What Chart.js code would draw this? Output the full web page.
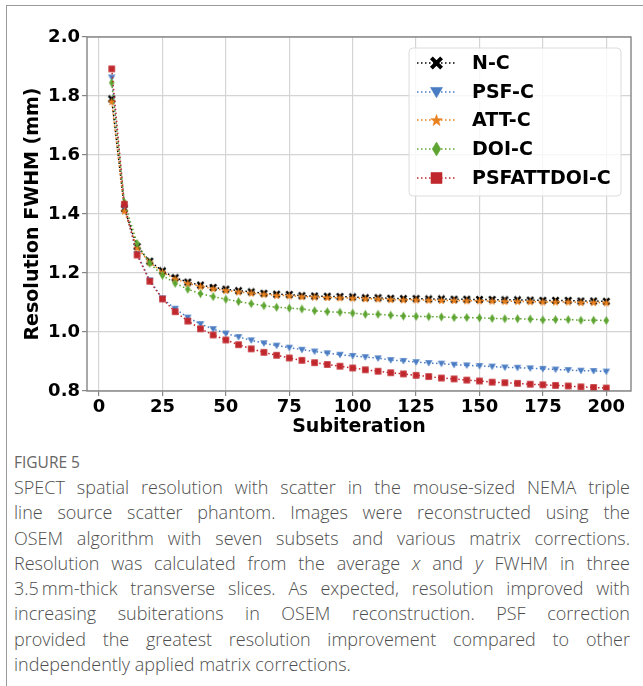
<!DOCTYPE html>
<html><head><meta charset="utf-8">
<script src="https://cdn.jsdelivr.net/npm/chart.js@4/dist/chart.umd.min.js"></script>
<style>
html,body{margin:0;padding:0;background:#fff;}
#wrap{position:relative;width:643px;height:686px;overflow:hidden;background:#fff;}
#frame{position:absolute;left:6px;top:5px;width:800px;height:900px;border-left:1px solid #9a9a9a;border-top:1px solid #9a9a9a;}
#cv{position:absolute;left:0;top:0;}
#cap{position:absolute;left:14px;top:452px;width:616px;font-family:"Open Sans",sans-serif;color:#4e4e4e;}
#fig{font-size:15.5px;line-height:20px;margin-bottom:3px;font-weight:500;color:#666;}
.ln{font-size:18px;line-height:25.3px;font-weight:300;text-align:justify;text-align-last:justify;white-space:nowrap;}
.ln.last{text-align-last:left;}
</style></head>
<body><div id="wrap">
<div id="frame"></div>
<canvas id="cv" width="643" height="440"></canvas>
<div id="cap">
<div id="fig">FIGURE 5</div>
<div class="ln">SPECT spatial resolution with scatter in the mouse-sized NEMA triple</div>
<div class="ln">line source scatter phantom. Images were reconstructed using the</div>
<div class="ln">OSEM algorithm with seven subsets and various matrix corrections.</div>
<div class="ln">Resolution was calculated from the average <i>x</i> and <i>y</i> FWHM in three</div>
<div class="ln">3.5&#8201;mm-thick transverse slices. As expected, resolution improved with</div>
<div class="ln">increasing subiterations in OSEM reconstruction. PSF correction</div>
<div class="ln">provided the greatest resolution improvement compared to other</div>
<div class="ln last">independently applied matrix corrections.</div>
</div>
</div>
<script>
const subiterations = [5,10,15,20,25,30,35,40,45,50,55,60,65,70,75,80,85,90,95,100,105,110,115,120,125,130,135,140,145,150,155,160,165,170,175,180,185,190,195,200];
const ncValues = [1.790,1.418,1.290,1.240,1.207,1.184,1.169,1.159,1.151,1.145,1.140,1.136,1.131,1.128,1.127,1.123,1.122,1.121,1.120,1.119,1.116,1.116,1.114,1.113,1.113,1.112,1.112,1.111,1.111,1.110,1.110,1.109,1.109,1.108,1.107,1.107,1.107,1.105,1.105,1.104];
const psfValues = [1.863,1.423,1.265,1.175,1.114,1.079,1.049,1.027,1.010,0.995,0.983,0.972,0.962,0.954,0.947,0.940,0.934,0.928,0.923,0.919,0.915,0.911,0.905,0.902,0.898,0.895,0.893,0.889,0.887,0.885,0.883,0.880,0.879,0.877,0.875,0.873,0.871,0.869,0.868,0.866];
const attValues = [1.781,1.410,1.285,1.236,1.203,1.180,1.165,1.155,1.147,1.141,1.136,1.132,1.128,1.124,1.123,1.120,1.119,1.117,1.116,1.115,1.113,1.112,1.110,1.109,1.109,1.108,1.107,1.107,1.106,1.106,1.105,1.104,1.104,1.103,1.102,1.102,1.102,1.100,1.100,1.099];
const doiValues = [1.845,1.440,1.300,1.233,1.192,1.165,1.145,1.130,1.120,1.111,1.103,1.096,1.089,1.084,1.081,1.078,1.072,1.069,1.067,1.064,1.060,1.060,1.057,1.054,1.053,1.052,1.051,1.049,1.049,1.048,1.046,1.045,1.045,1.044,1.041,1.042,1.042,1.040,1.040,1.039];
const psfattdoiValues = [1.892,1.433,1.261,1.172,1.112,1.069,1.037,1.011,0.990,0.973,0.957,0.943,0.931,0.921,0.912,0.904,0.896,0.890,0.884,0.878,0.872,0.867,0.862,0.858,0.853,0.849,0.844,0.841,0.837,0.834,0.830,0.828,0.826,0.823,0.821,0.819,0.817,0.814,0.812,0.810];
const seriesNames = ['N-C','PSF-C','ATT-C','DOI-C','PSFATTDOI-C'];
const xTickValues = [0,25,50,75,100,125,150,175,200];
const yTickValues = [0.8,1.0,1.2,1.4,1.6,1.8,2.0];

const seriesColors = ['#000000','#4a7cc3','#e8801e','#5ea431','#c0282e'];
const seriesMarkers = ['x','tri','star','diamond','square'];
const seriesValues = [ncValues, psfValues, attValues, doiValues, psfattdoiValues];

function drawMarker(ctx, type, cx, cy, s, color){
  ctx.save();
  ctx.fillStyle = color; ctx.strokeStyle = color; ctx.lineWidth = 0.6;
  ctx.beginPath();
  if (type === 'x'){
    ctx.translate(cx, cy); ctx.rotate(Math.PI/4);
    const L = s*0.72, w = s*0.2;
    ctx.rect(-L, -w, 2*L, 2*w); ctx.rect(-w, -L, 2*w, 2*L);
    ctx.fill();
  } else if (type === 'tri'){
    ctx.moveTo(cx - s/2, cy - s*0.38); ctx.lineTo(cx + s/2, cy - s*0.38); ctx.lineTo(cx, cy + s*0.48); ctx.closePath();
    ctx.fill(); ctx.stroke();
  } else if (type === 'star'){
    const R = s/2, r = R*0.4;
    for (let k=0;k<10;k++){
      const a = -Math.PI/2 + k*Math.PI/5; const rr = k%2===0 ? R : r;
      const px = cx + rr*Math.cos(a), py = cy + rr*Math.sin(a) + s*0.05;
      if (k===0) ctx.moveTo(px,py); else ctx.lineTo(px,py);
    }
    ctx.closePath(); ctx.fill(); ctx.stroke();
  } else if (type === 'diamond'){
    ctx.moveTo(cx, cy - s/2); ctx.lineTo(cx + s*0.3, cy); ctx.lineTo(cx, cy + s/2); ctx.lineTo(cx - s*0.3, cy); ctx.closePath();
    ctx.fill(); ctx.stroke();
  } else {
    ctx.rect(cx - s/2, cy - s/2, s, s); ctx.fill(); ctx.stroke();
  }
  ctx.restore();
}
const plotMarkerSize = {x:6, tri:6.5, star:7.5, diamond:8, square:6};
const legendMarkerSize = {x:10, tri:12, star:12, diamond:14, square:11};
function markerImage(type, color){
  const s = plotMarkerSize[type];
  const n = Math.ceil(s) + 3;
  const c = document.createElement('canvas'); c.width = n; c.height = n;
  drawMarker(c.getContext('2d'), type, n/2, n/2, s, color);
  return c;
}

const datasets = seriesNames.map((name, i) => ({
  label: name,
  data: subiterations.map((x, j) => ({x: x, y: seriesValues[i][j]})),
  borderColor: seriesColors[i],
  backgroundColor: seriesColors[i],
  borderWidth: 1.5,
  borderDash: [1.5, 2.5],
  pointStyle: markerImage(seriesMarkers[i], seriesColors[i]),
  pointRadius: 3,
  pointHoverRadius: 3,
  tension: 0,
  fill: false,
  order: seriesNames.length - 1 - i
}));

const framePlugin = {
  id: 'frameLegend',
  afterDraw(chart){
    const ctx = chart.ctx, a = chart.chartArea;
    ctx.save();
    ctx.strokeStyle = '#858585'; ctx.lineWidth = 1.4;
    ctx.strokeRect(a.left, a.top, a.right - a.left, a.bottom - a.top);
    const bx = 409, by = 48, bw = 212, bh = 148, r = 4;
    ctx.beginPath();
    ctx.moveTo(bx + r, by); ctx.lineTo(bx + bw - r, by); ctx.arcTo(bx + bw, by, bx + bw, by + r, r);
    ctx.lineTo(bx + bw, by + bh - r); ctx.arcTo(bx + bw, by + bh, bx + bw - r, by + bh, r);
    ctx.lineTo(bx + r, by + bh); ctx.arcTo(bx, by + bh, bx, by + bh - r, r);
    ctx.lineTo(bx, by + r); ctx.arcTo(bx, by, bx + r, by, r); ctx.closePath();
    ctx.fillStyle = 'rgba(255,255,255,0.8)'; ctx.fill();
    ctx.strokeStyle = '#dcdcdc'; ctx.lineWidth = 1; ctx.stroke();
    const rows = [63, 92, 120, 149, 178];
    ctx.font = 'bold 19px "DejaVu Sans"';
    ctx.textBaseline = 'middle'; ctx.textAlign = 'left';
    seriesNames.forEach((name, i) => {
      const y = rows[i];
      ctx.save();
      ctx.strokeStyle = seriesColors[i]; ctx.lineWidth = 1.5; ctx.setLineDash([1.5, 2.5]);
      ctx.beginPath(); ctx.moveTo(417, y); ctx.lineTo(456, y); ctx.stroke();
      ctx.restore();
      drawMarker(ctx, seriesMarkers[i], 436.5, y, legendMarkerSize[seriesMarkers[i]], seriesColors[i]);
      ctx.fillStyle = '#000';
      ctx.fillText(name, 472, y + 1);
    });
    ctx.restore();
  }
};

const tickFont = {family: 'DejaVu Sans', size: 18, weight: 'bold'};
const titleFont = {family: 'DejaVu Sans', size: 19, weight: 'bold'};

new Chart(document.getElementById('cv'), {
  type: 'line',
  data: {datasets: datasets},
  options: {
    responsive: false, animation: false, devicePixelRatio: 1,
    layout: {padding: {left: 0, right: 12, top: 37, bottom: 0}},
    plugins: {legend: {display: false}, tooltip: {enabled: false}},
    events: [],
    scales: {
      x: {
        type: 'linear', min: -4.75, max: 209.75,
        afterBuildTicks: s => { s.ticks = xTickValues.map(v => ({value: v})); },
        afterFit: s => { s.height = 49; },
        ticks: {font: tickFont, color: '#000', padding: 1, maxRotation: 0, autoSkip: false, callback: v => String(v)},
        grid: {color: '#d4d4d4', lineWidth: 1.2, tickColor: '#858585', tickLength: 5, drawTicks: true},
        border: {display: false},
        title: {display: true, text: 'Subiteration', font: titleFont, color: '#000', padding: {top: 0, bottom: 2}}
      },
      y: {
        type: 'linear', min: 0.8, max: 2.0,
        afterBuildTicks: s => { s.ticks = yTickValues.map(v => ({value: v})); },
        afterFit: s => { s.width = 87; },
        ticks: {font: tickFont, color: '#000', padding: 2, autoSkip: false, callback: v => v.toFixed(1)},
        grid: {color: '#d4d4d4', lineWidth: 1.2, tickColor: '#858585', tickLength: 5, drawTicks: true},
        border: {display: false},
        title: {display: true, text: 'Resolution FWHM (mm)', font: titleFont, color: '#000', padding: {top: 22, bottom: 0}}
      }
    }
  },
  plugins: [framePlugin]
});
</script>
</body></html>
